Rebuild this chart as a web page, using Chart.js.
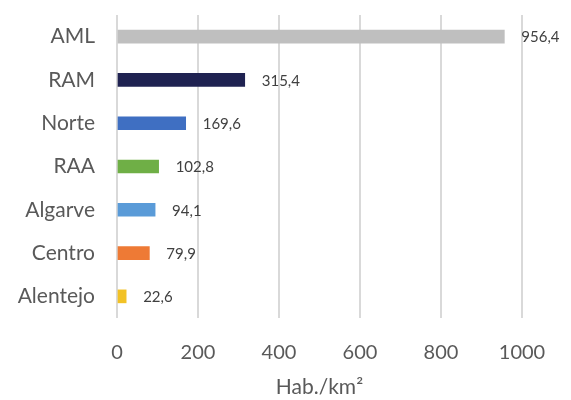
<!DOCTYPE html>
<html>
<head>
<meta charset="utf-8">
<script src="https://cdn.jsdelivr.net/npm/chart.js@4"></script>
<style>
  html, body { margin: 0; padding: 0; background: #ffffff; }
  #wrap { width: 571px; height: 400px; position: relative; }
</style>
</head>
<body>
<div id="wrap"><canvas id="c"></canvas></div>
<script>
// Densidade populacional por região (Hab./km²)
const regions = ["AML", "RAM", "Norte", "RAA", "Algarve", "Centro", "Alentejo"];
const density = [956.4, 315.4, 169.6, 102.8, 94.1, 79.9, 22.6];
const barColors = ["#BFBFBF", "#1F2251", "#3F6FC2", "#6FAF46", "#5A9BD8", "#EE7A35", "#F2C226"];
const xTicks = [0, 200, 400, 600, 800, 1000];
const axisTitle = "Hab./km²";

const FONT = "Lato, 'Open Sans', sans-serif";

// Writes each value (decimal comma) just past the end of its bar
const valueLabels = {
  id: "valueLabels",
  afterDatasetsDraw(chart) {
    const ctx = chart.ctx;
    const meta = chart.getDatasetMeta(0);
    ctx.save();
    ctx.font = "15px " + FONT;
    ctx.fillStyle = "#404040";
    ctx.textAlign = "left";
    ctx.textBaseline = "middle";
    meta.data.forEach((bar, i) => {
      const txt = density[i].toFixed(1).replace(".", ",");
      ctx.fillText(txt, bar.x + 17, bar.y + 1);
    });
    ctx.restore();
  }
};

new Chart(document.getElementById("c"), {
  type: "bar",
  data: {
    labels: regions,
    datasets: [{
      data: density,
      backgroundColor: barColors,
      borderWidth: 0,
      barThickness: 13
    }]
  },
  options: {
    indexAxis: "y",
    responsive: true,
    maintainAspectRatio: false,
    animation: false,
    layout: { padding: { top: 15, right: 49, bottom: 0, left: 0 } },
    plugins: {
      legend: { display: false },
      tooltip: { enabled: false }
    },
    scales: {
      x: {
        min: 0,
        max: 1000,
        afterBuildTicks(scale) { scale.ticks = xTicks.map(v => ({ value: v })); },
        afterFit(scale) {
          scale.height = 82;
          scale.paddingLeft = 0;
          scale.paddingRight = 0;
        },
        grid: { color: "#D9D9D9", lineWidth: 2, drawTicks: false },
        border: { display: false },
        ticks: {
          color: "#595959",
          font: { family: FONT, size: 20 },
          padding: 23,
          callback: (v) => String(v)
        },
        title: {
          display: true,
          text: axisTitle,
          color: "#595959",
          font: { family: FONT, size: 21 },
          padding: { top: 4, bottom: 0 }
        }
      },
      y: {
        grid: { display: false, drawTicks: false },
        border: { display: false },
        afterFit(scale) {
          scale.width = 117;
          scale.paddingTop = 0;
          scale.paddingBottom = 0;
        },
        ticks: {
          color: "#595959",
          font: { family: FONT, size: 21 },
          padding: 22
        }
      }
    }
  },
  plugins: [valueLabels]
});
</script>
</body>
</html>
